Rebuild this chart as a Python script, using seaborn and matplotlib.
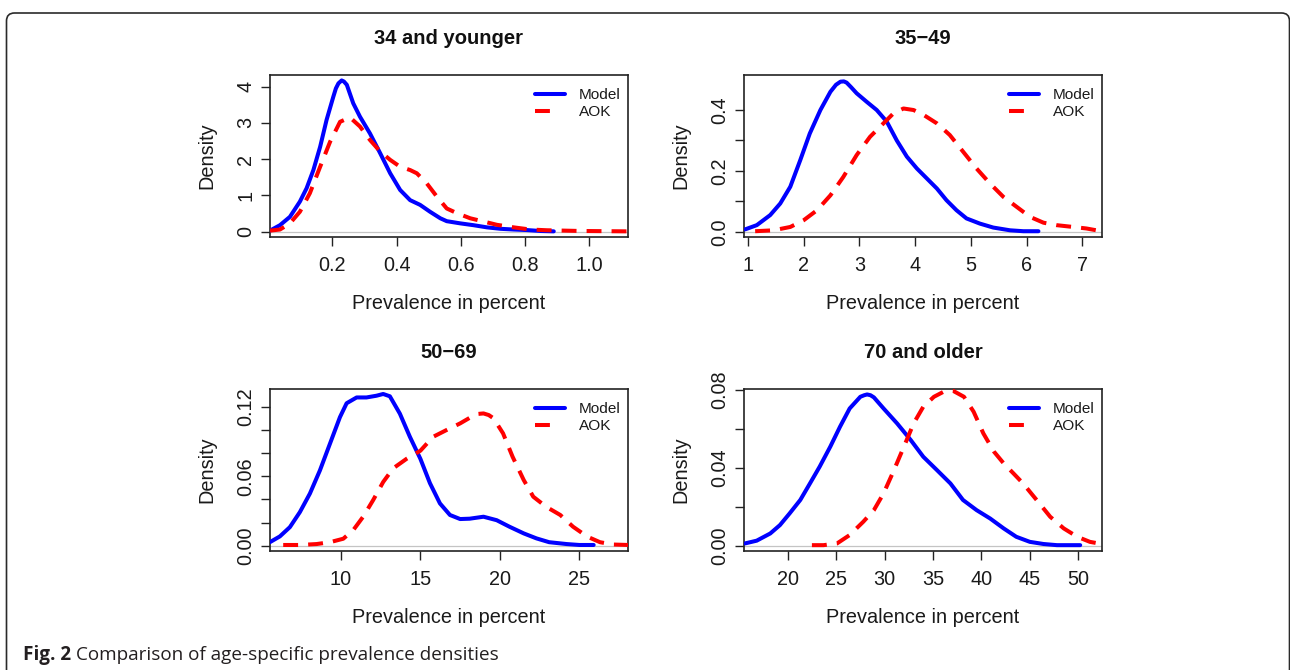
import numpy as np
import pandas as pd
import matplotlib
matplotlib.use("Agg")
import matplotlib.pyplot as plt
import seaborn as sns
from matplotlib.lines import Line2D
from matplotlib.patches import FancyBboxPatch
from matplotlib.transforms import IdentityTransform

# ---------------- data ----------------
titles = ["34 and younger", "35\u221249", "50\u221269", "70 and older"]
series_names = ["Model", "AOK"]
x_label = "Prevalence in percent"
y_label = "Density"
caption_bold = "Fig. 2"
caption_text = "Comparison of age-specific prevalence densities"

p1_model_x = [0.006, 0.037, 0.068, 0.099, 0.12, 0.141, 0.162, 0.182, 0.203, 0.211, 0.219, 0.229, 0.236, 0.245,
              0.265, 0.286, 0.317, 0.349, 0.380, 0.411, 0.442, 0.473, 0.504, 0.536, 0.556, 0.598, 0.639, 0.681,
              0.723, 0.764, 0.806, 0.847, 0.889]
p1_model_y = [0.03, 0.18, 0.41, 0.83, 1.2, 1.7, 2.34, 3.08, 3.72, 3.95, 4.09, 4.17, 4.14, 4.05,
              3.54, 3.17, 2.71, 2.16, 1.61, 1.15, 0.87, 0.74, 0.55, 0.37, 0.29, 0.23, 0.18, 0.12,
              0.08, 0.06, 0.045, 0.02, 0.01]
p1_aok_x = [0.006, 0.037, 0.068, 0.099, 0.13, 0.162, 0.193, 0.224, 0.255, 0.286, 0.317, 0.349, 0.380, 0.411,
            0.442, 0.463, 0.494, 0.525, 0.556, 0.588, 0.629, 0.671, 0.712, 0.764, 0.816, 0.868, 0.972, 1.117]
p1_aok_y = [0.03, 0.06, 0.23, 0.55, 1.06, 1.79, 2.48, 3.03, 3.15, 2.9, 2.53, 2.21, 1.98, 1.79,
            1.70, 1.61, 1.33, 0.97, 0.64, 0.51, 0.37, 0.28, 0.19, 0.12, 0.06, 0.04, 0.02, 0.01]

p2_model_x = [0.95, 1.16, 1.40, 1.58, 1.76, 1.94, 2.11, 2.30, 2.48, 2.58, 2.66, 2.72, 2.77, 2.85, 2.95, 3.13,
              3.31, 3.49, 3.67, 3.85, 4.03, 4.21, 4.39, 4.56, 4.74, 4.92, 5.16, 5.40, 5.70, 5.94, 6.21]
p2_model_y = [0.008, 0.022, 0.055, 0.093, 0.148, 0.236, 0.323, 0.40, 0.46, 0.483, 0.493, 0.494, 0.49, 0.475,
              0.455, 0.427, 0.40, 0.362, 0.30, 0.247, 0.208, 0.175, 0.142, 0.104, 0.071, 0.044, 0.027, 0.014,
              0.005, 0.002, 0.002]
p2_aok_x = [1.13, 1.46, 1.76, 2.00, 2.24, 2.48, 2.71, 2.95, 3.19, 3.43, 3.61, 3.79, 3.97, 4.15,
            4.39, 4.62, 4.86, 5.10, 5.34, 5.58, 5.82, 6.06, 6.30, 6.53, 6.83, 7.07, 7.31]
p2_aok_y = [0.002, 0.005, 0.016, 0.038, 0.071, 0.12, 0.18, 0.252, 0.312, 0.356, 0.389, 0.405, 0.40, 0.384,
            0.356, 0.318, 0.263, 0.208, 0.159, 0.115, 0.082, 0.049, 0.03, 0.022, 0.016, 0.011, 0.003]

p3_model_x = [5.53, 6.16, 6.79, 7.42, 8.05, 8.68, 9.31, 9.94, 10.36, 10.99, 11.61, 12.24, 12.66, 13.08,
              13.71, 14.34, 15.0, 15.6, 16.23, 16.86, 17.5, 18.1, 18.97, 19.8, 20.6, 21.5, 22.3, 23.1,
              24.2, 25.0, 25.9]
p3_model_y = [0.003, 0.008, 0.016, 0.029, 0.045, 0.065, 0.088, 0.111, 0.123, 0.128, 0.128, 0.1295, 0.131, 0.129,
              0.114, 0.094, 0.075, 0.054, 0.0365, 0.0265, 0.023, 0.0233, 0.025, 0.022, 0.0164, 0.0106, 0.0063,
              0.003, 0.0014, 0.0006, 0.0006]
p3_aok_x = [6.37, 7.42, 8.47, 9.31, 10.15, 10.78, 11.4, 12.03, 12.66, 13.29, 14.13, 15.0, 15.8, 16.65,
            17.5, 18.3, 18.65, 18.97, 19.3, 19.6, 20.2, 20.8, 21.5, 22.1, 22.9, 23.8, 24.6, 25.5, 26.3, 27.1,
            28.07]
p3_aok_y = [0.0006, 0.0006, 0.0014, 0.003, 0.006, 0.0135, 0.025, 0.0394, 0.055, 0.0668, 0.075, 0.082, 0.094,
            0.0999, 0.1056, 0.112, 0.1138, 0.1142, 0.1128, 0.11, 0.097, 0.0768, 0.0567, 0.0423, 0.0337, 0.0265,
            0.0164, 0.0078, 0.003, 0.001, 0.0006]

p4_model_x = [15.6, 16.8, 18.2, 19.2, 20.2, 21.3, 22.3, 23.3, 24.4, 25.4, 26.4, 27.5, 27.9, 28.2, 28.55, 28.9,
              29.9, 31.3, 32.7, 34.0, 35.4, 36.8, 38.1, 39.5, 40.9, 42.3, 43.6, 45.0, 46.4, 47.8, 50.2]
p4_model_y = [0.0012, 0.0026, 0.0063, 0.0106, 0.0166, 0.0235, 0.032, 0.0406, 0.0509, 0.0611, 0.0705, 0.0765,
              0.0773, 0.0777, 0.0773, 0.0762, 0.0705, 0.0628, 0.0543, 0.0457, 0.0389, 0.032, 0.0235, 0.0183,
              0.014, 0.0089, 0.0046, 0.002, 0.0009, 0.0003, 0.0003]
p4_aok_x = [22.5, 23.7, 25.1, 26.4, 27.8, 28.9, 29.9, 30.9, 32.0, 33.0, 34.0, 35.1, 36.1, 36.6, 37.1,
            38.2, 39.2, 40.2, 41.3, 42.3, 43.3, 44.3, 45.7, 47.1, 48.5, 49.9, 51.2, 52.4]
p4_aok_y = [0.0003, 0.0003, 0.0012, 0.0055, 0.0123, 0.0183, 0.0269, 0.038, 0.0509, 0.0628, 0.0714, 0.0765,
            0.0791, 0.0797, 0.0795, 0.0765, 0.0688, 0.0577, 0.0483, 0.0423, 0.0372, 0.032, 0.0235, 0.0149,
            0.0089, 0.0046, 0.002, 0.0009]

x_ticks = [[0.2, 0.4, 0.6, 0.8, 1.0], [1, 2, 3, 4, 5, 6, 7], [10, 15, 20, 25], [20, 25, 30, 35, 40, 45, 50]]
x_tick_labels = [["0.2", "0.4", "0.6", "0.8", "1.0"], ["1", "2", "3", "4", "5", "6", "7"],
                 ["10", "15", "20", "25"], ["20", "25", "30", "35", "40", "45", "50"]]
y_ticks = [[0, 1, 2, 3, 4], [0, 0.1, 0.2, 0.3, 0.4], [0, 0.02, 0.04, 0.06, 0.08, 0.10, 0.12],
           [0, 0.02, 0.04, 0.06, 0.08]]
y_tick_labels = [["0", "1", "2", "3", "4"], ["0.0", "", "0.2", "", "0.4"],
                 ["0.00", "", "", "0.06", "", "", "0.12"], ["0.00", "", "0.04", "", "0.08"]]

panels = [
    (p1_model_x, p1_model_y, p1_aok_x, p1_aok_y),
    (p2_model_x, p2_model_y, p2_aok_x, p2_aok_y),
    (p3_model_x, p3_model_y, p3_aok_x, p3_aok_y),
    (p4_model_x, p4_model_y, p4_aok_x, p4_aok_y),
]

# ---------------- layout / style ----------------
x_limits = [(0.006, 1.12), (0.93, 7.35), (5.54, 28.06), (15.49, 52.45)]
y_limits = [(-0.146, 4.32), (-0.017, 0.515), (-0.0046, 0.1353), (-0.0027, 0.0805)]

W, H = 1290, 670
axes_px = [(270, 75, 628, 237), (744, 75, 1102, 237), (270, 389, 628, 551), (744, 389, 1102, 551)]

sns.set_style("white")
plt.rcParams["font.family"] = ["Liberation Sans", "DejaVu Sans"]

colors = {"Model": "#0000ff", "AOK": "#ff0000"}
LW = 2.9
dash_pat = (3.7, 2.5)
box_col = "#222222"
fs = 14.3

fig = plt.figure(figsize=(W / 100, H / 100), dpi=100)
fig.patch.set_facecolor("white")

for i, (mx, my, axx, ayy) in enumerate(panels):
    l, t, r, b = axes_px[i]
    ax = fig.add_axes([l / W, 1 - b / H, (r - l) / W, (b - t) / H])
    df = pd.DataFrame({
        "x": list(mx) + list(axx),
        "y": list(my) + list(ayy),
        "series": [series_names[0]] * len(mx) + [series_names[1]] * len(axx),
    })
    ax.axhline(0, color="#c4c4c4", lw=0.9, zorder=1)
    sns.lineplot(data=df, x="x", y="y", hue="series", style="series",
                 palette=colors, dashes={"Model": "", "AOK": dash_pat},
                 linewidth=LW, estimator=None, sort=False, legend=False, ax=ax, zorder=3)
    for ln in ax.get_lines():
        ln.set_solid_capstyle("round")
        ln.set_solid_joinstyle("round")
    ax.set_xlim(*x_limits[i])
    ax.set_ylim(*y_limits[i])
    ax.set_xticks(x_ticks[i])
    ax.set_xticklabels(x_tick_labels[i], fontsize=fs)
    ax.set_yticks(y_ticks[i])
    ax.set_yticklabels(y_tick_labels[i], fontsize=fs, rotation=90, va="center")
    ax.tick_params(axis="both", direction="out", length=6.5, width=1.0, color=box_col,
                   labelcolor="#1a1a1a", bottom=True, left=True)
    ax.tick_params(axis="x", pad=7.5)
    ax.tick_params(axis="y", pad=4)
    for s in ax.spines.values():
        s.set_visible(True)
        s.set_color(box_col)
        s.set_linewidth(1.2)
    ax.set_xlabel(x_label, fontsize=fs, labelpad=13.5, color="#1a1a1a")
    ax.set_ylabel(y_label, fontsize=fs, labelpad=14.5, color="#1a1a1a")
    ax.set_title(titles[i], fontsize=14.5, fontweight="bold", pad=22.5, color="#111111")
    ax.set_facecolor("white")

    handles = [Line2D([], [], color=colors["Model"], lw=LW),
               Line2D([], [], color=colors["AOK"], lw=LW, linestyle=(0, (3.7, 12)))]
    leg = ax.legend(handles, series_names, loc="upper right", bbox_to_anchor=(1.0 + 5.5 / 358, 1.0),
                    frameon=False, fontsize=11.1, handlelength=2.0, handletextpad=0.85,
                    labelspacing=0.2, borderaxespad=0.45)
    for txt in leg.get_texts():
        txt.set_color("#1a1a1a")

# border frame (rounded corners, open at the bottom)
frame = FancyBboxPatch((6.5, -60), 1283, H - 13 + 60, boxstyle="round,pad=0,rounding_size=8",
                       transform=IdentityTransform(), fill=False, ec="#2a2a2a", lw=1.2)
fig.add_artist(frame)

# caption
t1 = fig.text(23 / W, 1 - 660 / H, caption_bold, fontsize=13.6, fontweight="bold",
              family=["Open Sans", "DejaVu Sans"], color="#231f20", va="baseline", ha="left")
fig.canvas.draw()
bb = t1.get_window_extent(renderer=fig.canvas.get_renderer())
fig.text((bb.x1 + 5) / W, 1 - 660 / H, caption_text, fontsize=13.6,
         family=["Open Sans", "DejaVu Sans"], color="#231f20", va="baseline", ha="left")

fig.savefig("out.png", dpi=100, facecolor="white")
